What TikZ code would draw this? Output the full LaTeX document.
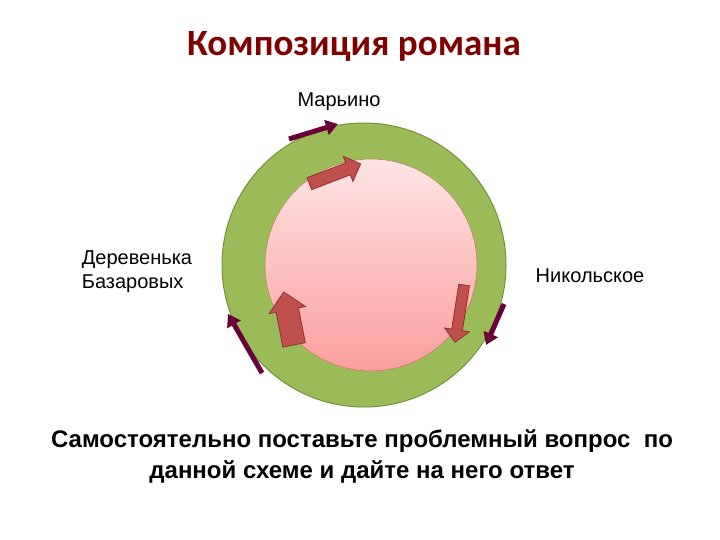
\documentclass[tikz,border=0pt]{standalone}
\usepackage{fontspec}
\setmainfont{Liberation Sans}
\newfontfamily\titlefont{Carlito}
\usetikzlibrary{shapes.arrows,arrows.meta}
\definecolor{ring}{RGB}{155,187,89}
\definecolor{ringb}{RGB}{115,145,60}
\definecolor{dark}{RGB}{105,0,55}
\definecolor{blk}{RGB}{192,80,77}
\definecolor{blkb}{RGB}{140,50,48}
\definecolor{ttl}{RGB}{128,0,0}
\tikzset{
 blockarr/.style={single arrow,draw=blkb,fill=blk,line width=0.8pt,inner xsep=0pt},
 darkarr/.style={draw=dark,line width=5pt,-{Triangle[length=12pt,width=15pt]}},
 lbl/.style={font=\fontsize{20}{24}\selectfont,align=left}
}
\begin{document}
\begin{tikzpicture}[x=1pt,y=-1pt]
\useasboundingbox (0,0) rectangle (720,540);
\fill[white] (0,0) rectangle (720,540);
\node[font=\titlefont\bfseries\fontsize{37}{40}\selectfont,text=ttl] (title) at (354,46) {Композиция романа};
\node[circle,draw=ringb,fill=ring,line width=1pt,minimum size=284pt] (outer) at (364,265) {};
\shade[top color={rgb,255:red,255;green,228;blue,228},bottom color={rgb,255:red,250;green,158;blue,158}] (371,265) circle (106);
\node[circle,draw={rgb,255:red,190;green,130;blue,100},line width=0.6pt,minimum size=212pt] (inner) at (371,265) {};
\node[lbl] (mar) at (339,102) {Марьино};
\node[lbl] (der) at (137,272) {Деревенька\\Базаровых};
\node[lbl] (nik) at (590,276) {Никольское};
\node[blockarr,inner ysep=6pt,minimum width=20pt,minimum height=55pt,rotate=21] (a1) at (332,175) {};
\node[blockarr,inner ysep=5pt,minimum width=17pt,minimum height=58pt,rotate=-99] (a2) at (460,311) {};
\node[blockarr,inner ysep=11pt,minimum width=36pt,minimum height=54pt,rotate=101] (a3) at (290,324) {};
\coordinate (d1s) at (289,139); \coordinate (d1e) at (338,124);
\coordinate (d2s) at (504,304); \coordinate (d2e) at (486,345);
\coordinate (d3s) at (262,373); \coordinate (d3e) at (228,314);
\draw[darkarr] (d1s) -- (d1e);
\draw[darkarr] (d2s) -- (d2e);
\draw[darkarr] (d3s) -- (d3e);
\node[font=\bfseries\fontsize{24}{31}\selectfont,align=center] (q) at (362,456) {Самостоятельно поставьте проблемный вопрос\ \ по\\данной схеме и дайте на него ответ};
\end{tikzpicture}
\end{document}
